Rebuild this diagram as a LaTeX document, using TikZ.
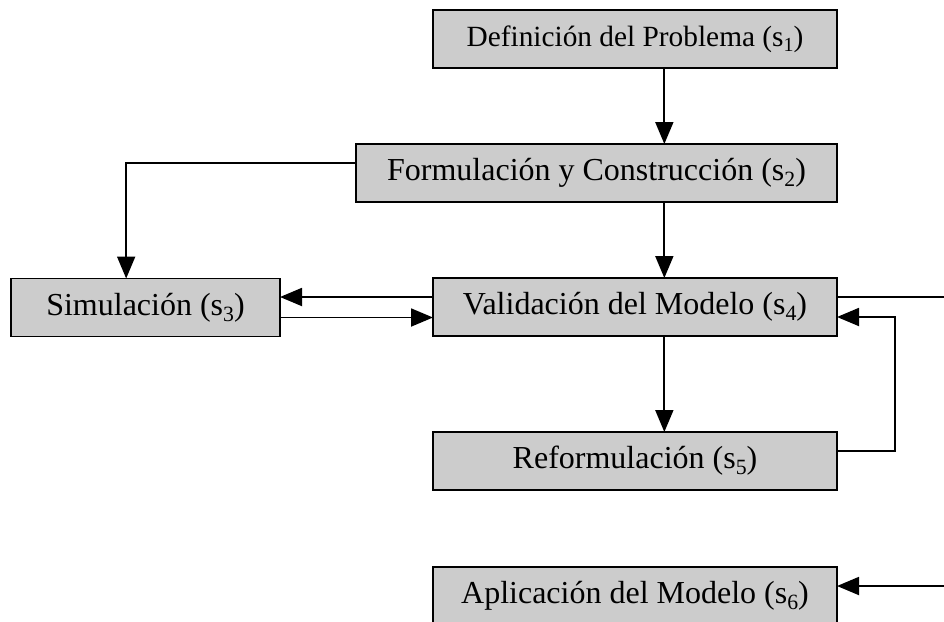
\documentclass[tikz,border=0pt]{standalone}
\usepackage{fontspec}
\setmainfont{Liberation Serif}
\usepackage{tikz}
\usetikzlibrary{arrows.meta}
\usetikzlibrary{positioning}
\definecolor{boxgray}{RGB}{204,204,204}
\newcommand{\subidx}[1]{\raisebox{-0.4ex}{\scalebox{0.68}{#1}}}

\begin{document}
\begin{tikzpicture}[x=0.75pt,y=-0.75pt,>={Triangle[length=16.5pt,width=13.5pt]},line width=1.4pt]
\tikzstyle{b}=[draw,fill=boxgray,inner sep=0pt,outer sep=0pt,minimum width=303pt,minimum height=43.5pt,font=\fontsize{24}{28}\selectfont]
\useasboundingbox (0,0) rectangle (944,621);
\node[b, font=\fontsize{22}{26}\selectfont]	(s1)	at (635,39)		{Definición del Problema (s\subidx{1})};
\node[b, minimum width=360.75pt]	(s2)	at (596.5,173)	{Formulación y Construcción (s\subidx{2})};
\node[b, minimum width=201.75pt]	(s3)	at (145.5,307.5)	{Simulación (s\subidx{3})\hspace{22pt}};
\node[b]	(s4)	at (635,307)	{Validación del Modelo (s\subidx{4})};
\node[b]	(s5)	at (635,461)	{Reformulación (s\subidx{5})};
\node[b]	(s6)	at (635,596)	{Aplicación del Modelo (s\subidx{6})};
\path[->]	([xshift=22pt]s1.south)	edge	([xshift=22pt]s1.south |- s2.north)
	 ([xshift=22pt]s2.south -| s4.north)	edge	([xshift=22pt]s4.north)
	 ([xshift=22pt]s4.south)	edge	([xshift=22pt]s5.north)
	 ([yshift=7.5pt]s4.west)	edge	([yshift=7.5pt]s4.west -| s3.east)
	 ([yshift=-7.5pt]s3.east)	edge	([yshift=-7.5pt]s3.east -| s4.west);
\draw[->]	([yshift=7.5pt]s2.west)	-|	([xshift=-14.5pt]s3.north);
\draw[->]	([yshift=7.5pt]s5.east)	-- ++(43.5pt,0)	|-	([yshift=-7.5pt]s4.east);
\draw[->]	([yshift=7.5pt]s4.east)	-- ++(100pt,0)	|-	([yshift=7.5pt]s6.east);
\end{tikzpicture}
\end{document}
